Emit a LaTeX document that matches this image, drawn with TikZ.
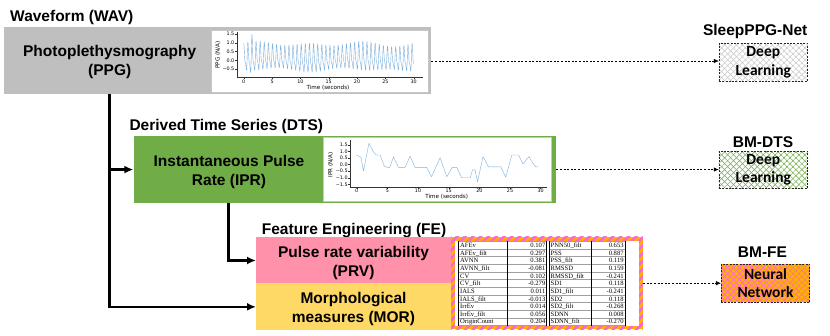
\documentclass[tikz,border=0pt]{standalone}
\usepackage{fontspec}
\setmainfont{Liberation Sans}
\newfontfamily\calib{Carlito}
\newfontfamily\dvs{DejaVu Sans}
\newfontfamily\tms{Liberation Serif}
\usetikzlibrary{arrows.meta,patterns.meta}
\definecolor{boxgray}{HTML}{BFBFBF}
\definecolor{boxgreen}{HTML}{70AD47}
\definecolor{boxpink}{HTML}{FF91AB}
\definecolor{boxyellow}{HTML}{FFD966}
\definecolor{hatchorange}{HTML}{FFB000}
\definecolor{hatchpink}{HTML}{FF66CC}
\definecolor{plotblue}{HTML}{7FB2DD}
\definecolor{hatchgray}{HTML}{C8C8C8}
\definecolor{rulegray}{HTML}{A0A0A0}
\begin{document}
\begin{tikzpicture}[x=1pt,y=-1pt,
  lbl/.style={font=\fontsize{15.5}{19}\selectfont\bfseries, inner sep=0pt},
  area/.style={anchor=north west, inner sep=0pt, draw=none},
  panel/.style={area, fill=white, draw=black!22, line width=.4pt},
  flow/.style={line width=2.5pt, -{Latex[length=9pt,width=8pt]}},
  dflow/.style={line width=.6pt, dash pattern=on 2pt off 1.6pt, -{Latex[length=5pt,width=4.5pt]}},
  mlbox/.style={minimum width=88.7pt, minimum height=37.7pt, inner sep=0pt, align=center,
    font=\calib\bfseries\fontsize{15.5}{18.4}\selectfont,
    postaction={pattern={Lines[angle=45,distance=4.2pt,line width=.5pt]},pattern color=#1},
    postaction={pattern={Lines[angle=-45,distance=4.2pt,line width=.5pt]},pattern color=#1},
    postaction={draw=black!85, line width=.8pt, dash pattern=on 2pt off 1.3pt}},
  axis/.style={line width=.4pt, black!80},
  tick/.style={font=\dvs\fontsize{4.8}{5}\selectfont, inner sep=0pt},
  axlbl/.style={font=\dvs\fontsize{5.6}{6}\selectfont, inner sep=0pt},
  sig/.style={plotblue, line width=.4pt, line join=round},
  tcell/.style={font=\tms\fontsize{6.6}{7}\selectfont, inner sep=0pt},
  trule/.style={rulegray, line width=.9pt},
  vrule/.style={black, line width=.45pt}
]
\useasboundingbox (0,0) rectangle (830,336);
\fill[white] (0,0) rectangle (830,336);

% ---------- WAV ----------
\node[lbl, anchor=west] (wavlbl) at (10,17.5) {Waveform (WAV)};
\node[area, fill=boxgray, minimum width=427.7pt, minimum height=67pt] (ppg) at (3.3,27.3) {};
\node[lbl, align=center] (ppgtxt) at (109.7,62.2) {Photoplethysmography\\(PPG)};
\node[panel, minimum width=216.7pt, minimum height=62pt] (ppgplot) at (211,30) {};
\draw[axis] (236.7,32) -- (236.7,77.3) -- (423,77.3);
\foreach \v/\t [count=\i] in {1.5/1.5,1.0/1.0,0.5/0.5,0.0/0.0,-0.5/−0.5} {
  \draw[axis] (235,{60.3-17.5*\v}) -- (236.7,{60.3-17.5*\v});
  \node[tick, anchor=east] (ppgy\i) at (234.5,{60.3-17.5*\v}) {\t};
}
\foreach \t [count=\i] in {0,5,...,30} {
  \draw[axis] ({243.7+5.667*\t},77.3) -- ({243.7+5.667*\t},79);
  \node[tick, anchor=north] (ppgx\i) at ({243.7+5.667*\t},79.5) {\t};
}
\node[axlbl] (ppgxl) at (328,87.5) {Time (seconds)};
\node[axlbl, rotate=90] (ppgyl) at (217.8,55) {PPG (N/A)};
\begin{scope}[shift={(243.7,60.3)}, x=5.667pt, y=17.5pt]
  \draw[sig] plot[domain=0:30, samples=901]
    (\x, {(1+0.12*sin(37*\x+20)+0.5*max(0,1-abs(\x-1.45)/0.4))*(0.63*sin(mod(496.8*\x+70,360))+0.25*sin(2*mod(496.8*\x+70,360)-40))+0.1+0.07*sin(23*\x)});
\end{scope}

% ---------- DTS ----------
\node[lbl, anchor=west] (dtslbl) at (129.3,126) {Derived Time Series (DTS)};
\node[area, fill=boxgreen, minimum width=422.7pt, minimum height=66.7pt] (ipr) at (133.3,136) {};
\node[lbl, align=center] (iprtxt) at (229,172.3) {Instantaneous Pulse\\Rate (IPR)};
\node[panel, minimum width=228pt, minimum height=63.4pt] (iprplot) at (322.7,137.3) {};
\draw[axis] (350,140) -- (350,187.3) -- (546.7,187.3);
\foreach \v/\t [count=\i] in {1.5/1.5,1.0/1.0,0.5/0.5,0.0/0.0,-0.5/−0.5,-1.0/−1.0,-1.5/−1.5} {
  \draw[axis] (348.3,{164.7-13.1*\v}) -- (350,{164.7-13.1*\v});
  \node[tick, anchor=east] (ipry\i) at (347.8,{164.7-13.1*\v}) {\t};
}
\foreach \t [count=\i] in {0,5,...,30} {
  \draw[axis] ({356.7+6.133*\t},187.3) -- ({356.7+6.133*\t},188.8);
  \node[tick, anchor=north] (iprx\i) at ({356.7+6.133*\t},189.2) {\t};
}
\node[axlbl] (iprxl) at (446.7,196.6) {Time (seconds)};
\node[axlbl, rotate=90] (ypryl) at (330.5,165) {IPR (N/A)};
\begin{scope}[shift={(356.7,164.7)}, x=6.133pt, y=13.1pt]
  \draw[sig] (0,0.74) -- (0.7,0.56) -- (1.1,-0.48) -- (2.0,1.63) -- (2.7,1.0) -- (3.2,0.74) -- (3.8,0.74)
    -- (4.5,-0.1) -- (5.0,-0.2) -- (5.4,-0.2) -- (6.0,0.6) -- (6.8,-0.2) -- (7.9,-0.2) -- (8.7,0.65)
    -- (9.5,-0.2) -- (11.4,-0.2) -- (12.2,-0.92) -- (13.6,0.53) -- (14.7,-0.92) -- (15.6,-0.2)
    -- (16.3,-0.2) -- (17.1,-1.0) -- (18.5,-1.0) -- (18.9,-0.4) -- (19.3,-0.4) -- (19.7,-1.3)
    -- (20.6,0.62) -- (21.5,-0.17) -- (23.5,-0.17) -- (24.3,-0.95) -- (25.3,0.74) -- (26.4,0.74)
    -- (27.1,0.05) -- (28.1,0.62) -- (28.6,0.2) -- (29.2,-0.17) -- (29.6,-0.17);
\end{scope}

% ---------- FE ----------
\node[lbl, anchor=west] (felbl) at (261.7,231) {Feature Engineering (FE)};
\node[area, fill=boxpink, minimum width=195pt, minimum height=46pt] (prv) at (256,237.3) {};
\node[lbl, align=center] (prvtxt) at (353.5,263) {Pulse rate variability\\(PRV)};
\node[area, fill=boxyellow, minimum width=195pt, minimum height=46.7pt] (mor) at (256,283.3) {};
\node[lbl, align=center] (mortxt) at (353.5,308.5) {Morphological\\measures (MOR)};

% table
\node[area, fill=hatchorange, minimum width=191.7pt, minimum height=92.6pt,
  postaction={pattern={Lines[angle=45,distance=5.5pt,line width=2.6pt]}, pattern color=hatchpink}] (tbl) at (451,236.7) {};
\fill[white] (455,240.7) rectangle (638.7,325.7);
\foreach \i in {0,...,11} {
  \draw[trule] (458.5,{241.5+7.65*\i}) -- (546.7,{241.5+7.65*\i});
  \draw[trule] (549,{241.5+7.65*\i}) -- (625,{241.5+7.65*\i});
}
\foreach \xx in {458.5,507.3,546.7,549,591.7,625} {
  \draw[vrule] (\xx,241.5) -- (\xx,325.65);
}
\foreach \n/\v [count=\i from 0] in {AFEv/0.107, AFEv\_filt/0.297, AVNN/0.381, AVNN\_filt/-0.081, CV/0.102,
   CV\_filt/-0.279, IALS/0.011, IALS\_filt/-0.013, IrrEv/0.014, IrrEv\_filt/0.056, OriginCount/0.204} {
  \node[tcell, anchor=base west] (ln\i) at (460,{241.5+7.65*\i+6.0}) {\n};
  \node[tcell, anchor=base east] (lv\i) at (545.5,{241.5+7.65*\i+6.0}) {\v};
}
\foreach \n/\v [count=\i from 0] in {PNN50\_filt/0.653, PSS/0.887, PSS\_filt/0.119, RMSSD/0.159, RMSSD\_filt/-0.241,
   SD1/0.118, SD1\_filt/-0.241, SD2/0.118, SD2\_filt/-0.268, SDNN/0.008, SDNN\_filt/-0.270} {
  \node[tcell, anchor=base west] (rn\i) at (550.5,{241.5+7.65*\i+6.0}) {\n};
  \node[tcell, anchor=base east] (rv\i) at (623.8,{241.5+7.65*\i+6.0}) {\v};
}

% ---------- models ----------
\node[lbl] (m1lbl) at (755.2,31.5) {SleepPPG-Net};
\node[mlbox=hatchgray, fill=white] (dl1) at (763.3,62.2) {Deep\\Learning};
\node[lbl] (m2lbl) at (763,141.7) {BM-DTS};
\node[mlbox=boxgreen, fill=white] (dl2) at (763.3,170) {Deep\\Learning};
\node[lbl] (m3lbl) at (762.5,251.7) {BM-FE};
\node[mlbox=hatchpink, fill=hatchorange] (nn) at (765.5,283.3) {Neural\\Network};

% ---------- connectors ----------
\coordinate (trunk) at (109.3,94.3);
\coordinate (br) at (228.3,202.7);
\draw[flow] (trunk) |- (mor.west);
\draw[flow] (trunk |- ipr.west) -- (ipr.west);
\draw[flow] (br) |- (prv.west);
\draw[dflow] (ppg.east) -- (ppg.east -| dl1.west);
\draw[dflow] (ipr.east) -- (ipr.east -| dl2.west);
\draw[dflow] (tbl.east) -- (tbl.east -| nn.west);
\end{tikzpicture}
\end{document}
